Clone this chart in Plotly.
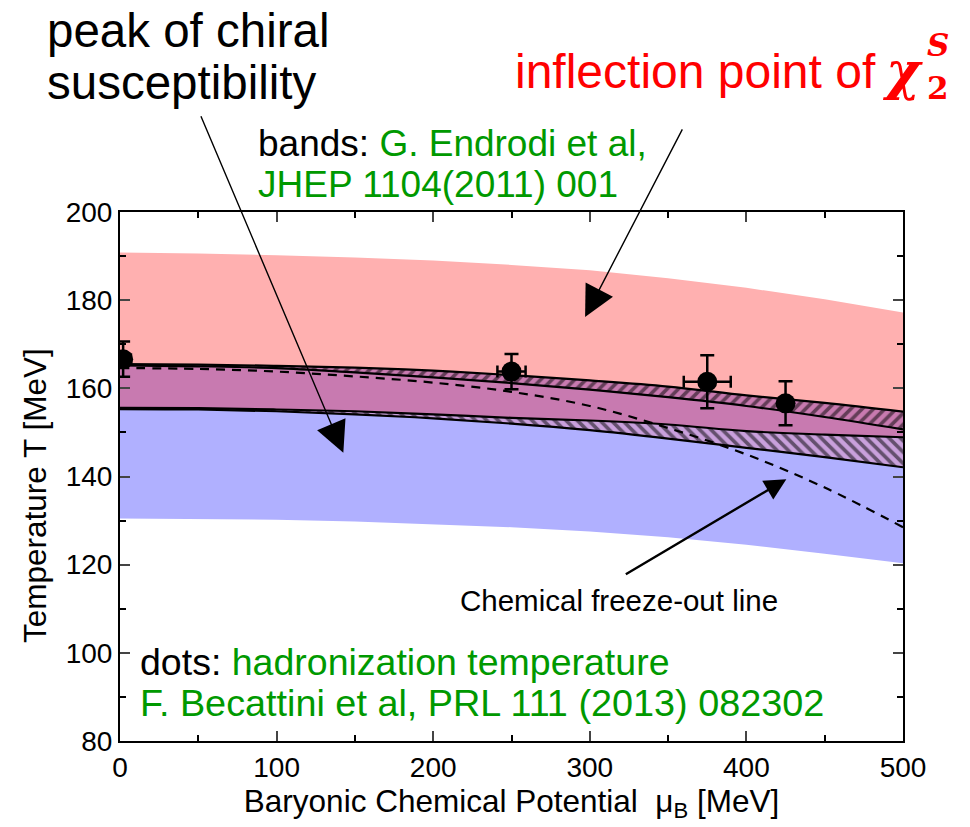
import plotly.graph_objects as go

# ---------------- data ----------------
mu_grid = [0, 50, 100, 150, 200, 250, 300, 350, 400, 450, 500]

# chi2^S inflection band (pink) upper edge
pink_top = [190.8, 190.6, 190.2, 189.7, 189.0, 188.0, 186.8, 185.0, 182.8, 180.2, 177.2]
# upper hatched band (top / bottom lines)
upper_hi = [165.5, 165.4, 165.1, 164.7, 164.0, 163.0, 161.8, 160.4, 158.4, 156.7, 154.7]
upper_lo = [165.2, 165.0, 164.6, 163.6, 162.5, 161.2, 159.7, 158.0, 156.0, 153.5, 150.7]
# lower hatched band (top / bottom lines)
lower_hi = [155.6, 155.5, 155.2, 154.8, 154.1, 153.3, 152.7, 151.8, 150.3, 149.5, 148.9]
lower_lo = [155.3, 155.2, 154.8, 154.1, 153.2, 152.0, 150.5, 148.6, 146.5, 144.4, 142.1]
# chiral susceptibility band (blue) lower edge
blue_bottom = [130.5, 130.4, 130.2, 129.8, 129.2, 128.5, 127.5, 126.2, 124.5, 122.5, 120.3]

# chemical freeze-out line (dashed)
fo_mu = [0, 50, 100, 150, 200, 250, 300, 350, 400, 450, 500]
fo_T = [164.6, 164.4, 163.8, 162.7, 161.3, 159.2, 156.0, 151.0, 145.0, 137.5, 128.5]

# hadronization temperature points (Becattini et al.)
pts_mu = [2, 250, 375, 425]
pts_T = [166.6, 163.8, 161.5, 156.6]
pts_T_err = [4, 4, 6, 5]
pts_mu_err = [5, 9, 15, 0]

x_ticks = [0, 100, 200, 300, 400, 500]
y_ticks = [80, 100, 120, 140, 160, 180, 200]

# ---------------- styling ----------------
PINK = "#FFB0B0"
BLUE = "#B0B0FF"
PURPLE = "#C87AB0"
LAVENDER = "#C9A0DC"
GREEN = "#009900"
FONT = "Liberation Sans, Arial, sans-serif"

W, H = 970, 827
L, R, T, B = 120, 67, 212, 86


def px(x):
    return (x - L) / (W - L - R)


def py(y):
    return (H - B - y) / (H - T - B)


def band(top, bottom):
    return mu_grid + mu_grid[::-1], top + bottom[::-1]


fig = go.Figure()

# pink region
x, y = band(pink_top, upper_hi)
fig.add_trace(go.Scatter(x=x, y=y, fill="toself", fillcolor=PINK, line=dict(width=0),
                         mode="lines", hoverinfo="skip", showlegend=False))
# upper hatched band
x, y = band(upper_hi, upper_lo)
fig.add_trace(go.Scatter(x=x, y=y, fill="toself", fillcolor=PURPLE, line=dict(width=0),
                         mode="lines", hoverinfo="skip", showlegend=False,
                         fillpattern=dict(shape="/", fgcolor="black", bgcolor=PURPLE,
                                          size=8, solidity=0.45)))
# purple overlap
x, y = band(upper_lo, lower_hi)
fig.add_trace(go.Scatter(x=x, y=y, fill="toself", fillcolor=PURPLE, line=dict(width=0),
                         mode="lines", hoverinfo="skip", showlegend=False))
# lower hatched band
x, y = band(lower_hi, lower_lo)
fig.add_trace(go.Scatter(x=x, y=y, fill="toself", fillcolor=LAVENDER, line=dict(width=0),
                         mode="lines", hoverinfo="skip", showlegend=False,
                         fillpattern=dict(shape="\\", fgcolor="black", bgcolor=LAVENDER,
                                          size=8, solidity=0.45)))
# blue region
x, y = band(lower_lo, blue_bottom)
fig.add_trace(go.Scatter(x=x, y=y, fill="toself", fillcolor=BLUE, line=dict(width=0),
                         mode="lines", hoverinfo="skip", showlegend=False))

# band boundary lines
for arr in (upper_hi, upper_lo, lower_hi, lower_lo):
    fig.add_trace(go.Scatter(x=mu_grid, y=arr, mode="lines", line=dict(color="black", width=2.2),
                             line_shape="spline", hoverinfo="skip", showlegend=False))

# freeze-out line
fig.add_trace(go.Scatter(x=fo_mu, y=fo_T, mode="lines", line_shape="spline",
                         line=dict(color="black", width=2.2, dash="9px,7px"),
                         hoverinfo="skip", showlegend=False))

# data points
fig.add_trace(go.Scatter(x=pts_mu, y=pts_T, mode="markers",
                         marker=dict(color="black", size=20),
                         error_y=dict(type="data", array=pts_T_err, color="black", thickness=2.5, width=7),
                         error_x=dict(type="data", array=pts_mu_err, color="black", thickness=2.5, width=6),
                         showlegend=False))

# ---------------- annotations ----------------
ann = []


def text(s, x, y, size, color="black", xanchor="left", family=FONT, angle=0):
    ann.append(dict(text=s, x=px(x), y=py(y), xref="paper", yref="paper", showarrow=False,
                    xanchor=xanchor, yanchor="middle", textangle=angle,
                    font=dict(size=size, color=color, family=family)))


text("peak of chiral", 45, 30, 47.5)
text("susceptibility", 45, 83, 47.5)
text("inflection point of", 513, 72, 48, color="red")
text("<b><i>χ</i></b>", 880, 70, 52, color="red", family="DejaVu Serif, serif")
text("<b><i>S</i></b>", 925, 45, 31, color="red", family="DejaVu Serif, serif")
text("<b>2</b>", 925, 88, 31, color="red", family="DejaVu Serif, serif")
text("bands: <span style='color:%s'>G. Endrodi et al,</span>" % GREEN, 256, 143, 37)
text("JHEP 1104(2011) 001", 256, 185, 37, color=GREEN)
text("dots: <span style='color:%s'>hadronization temperature</span>" % GREEN, 138, 662, 37.5)
text("F. Becattini et al, PRL 111 (2013) 082302", 138, 703, 37.8, color=GREEN)
text("Chemical freeze-out line", 458, 600, 29.5)
text("Temperature T [MeV]", 35, 496, 31.5, xanchor="center", angle=-90)

# arrows (head position in data units, tail offset in pixels)
ann.append(dict(x=142.6, y=145.4, xref="x", yref="y", ax=-143, ay=-338, text="",
                showarrow=True, arrowhead=2, arrowsize=4.4, arrowwidth=1.4, arrowcolor="black"))
ann.append(dict(x=297, y=176.2, xref="x", yref="y", ax=98, ay=-189, text="",
                showarrow=True, arrowhead=2, arrowsize=4.4, arrowwidth=1.4, arrowcolor="black"))
ann.append(dict(x=425.5, y=139.4, xref="x", yref="y", ax=-162, ay=96, text="",
                showarrow=True, arrowhead=2, arrowsize=1.8, arrowwidth=2.4, arrowcolor="black"))

fig.update_layout(
    width=W, height=H, autosize=False,
    margin=dict(l=L, r=R, t=T, b=B),
    paper_bgcolor="white", plot_bgcolor="white",
    font=dict(family=FONT, color="black"),
    annotations=ann,
    showlegend=False,
)

fig.update_xaxes(
    range=[0, 500], tickvals=x_ticks, ticks="inside", ticklen=10, tickwidth=2,
    showline=True, linecolor="black", linewidth=2, mirror="allticks", showgrid=False, zeroline=False,
    tickfont=dict(size=28, family=FONT, color="black"),
    minor=dict(ticks="inside", ticklen=6, tickwidth=1.5, dtick=50, showgrid=False, tickcolor="black"),
    title=dict(text="Baryonic Chemical Potential  μ<sub>B</sub> [MeV]",
               font=dict(size=31.5, family=FONT, color="black"), standoff=4),
)
fig.update_yaxes(
    range=[80, 200], tickvals=y_ticks, ticks="inside", ticklen=10, tickwidth=2,
    showline=True, linecolor="black", linewidth=2, mirror="allticks", showgrid=False, zeroline=False,
    tickfont=dict(size=28, family=FONT, color="black"),
    minor=dict(ticks="inside", ticklen=6, tickwidth=1.5, dtick=10, showgrid=False, tickcolor="black"),
)

fig.write_html("out.html")
